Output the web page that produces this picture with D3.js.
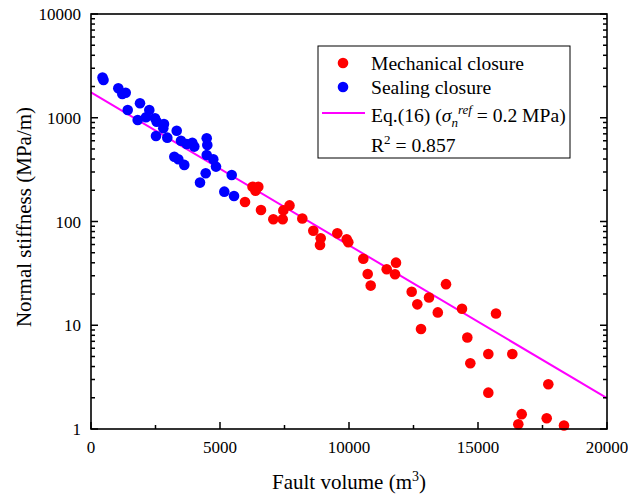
<!DOCTYPE html>
<html><head><meta charset="utf-8">
<script src="https://cdn.jsdelivr.net/npm/d3@7"></script>
<style>body{margin:0;background:#fff}svg{display:block}text{font-family:"Liberation Serif","Times New Roman",serif}</style>
</head><body><svg id="c" width="628" height="495"></svg>
<script>
// Data
const sealingX = [446,485,1058,1213,1345,1423,1899,2260,1810,2132,2481,2547,2829,2802,2519,2957,3322,3488,3709,3926,4004,4485,4508,3229,3384,3616,4485,4740,4845,4446,4225,5454,5167,5543];
const sealingY = [2443,2312,1923,1694,1742,1188,1378,1188,951,1010,988,917,871,791,667,643,750,601,559,575,527,634,546,421,398,351,437,398,338,292,237,281,194,176];
const mechX = [6260,6485,6376,5969,6589,7066,7430,7454,7694,8190,8616,8903,8876,9547,9911,9973,10554,10725,10841,11461,11822,11783,12430,12648,13101,13760,13442,12791,14380,15698,14586,15400,14702,16330,15400,17725,16694,16562,17663,18333];
const mechY = [216,216,198,154,129,105,105,128,143,107,81.5,68.9,59.3,76.9,67.3,63.1,43.8,31.2,24.1,34.6,40.1,31.0,21.0,15.9,18.5,24.9,13.3,9.2,14.4,13.0,7.62,5.28,4.30,5.28,2.24,2.70,1.39,1.11,1.27,1.08];
const fitX = [0,20000];
const fitY = [1760,1.98];
const xTicks = [0,5000,10000,15000,20000];
const xMinor = [2500,7500,12500,17500];
const yTicks = [1,10,100,1000,10000];

const svg = d3.select("#c");
const L=91,R=607,T=14,B=429;
const x = d3.scaleLinear().domain([0,20000]).range([L,R]);
const y = d3.scaleLog().domain([1,10000]).range([B,T]);

const yMinor=[];
for(let d=1; d<10000; d*=10) for(let k=2;k<=9;k++) yMinor.push(d*k);

const g = svg.append("g");
// fit line
g.append("line").attr("x1",x(fitX[0])).attr("y1",y(fitY[0])).attr("x2",x(fitX[1])).attr("y2",y(fitY[1]))
 .attr("stroke","#ff00ff").attr("stroke-width",2);

// points
g.selectAll("circle.s").data(sealingX.map((v,i)=>[v,sealingY[i]])).enter().append("circle")
 .attr("cx",d=>x(d[0])).attr("cy",d=>y(d[1])).attr("r",5.3).attr("fill","#0000ff");
g.selectAll("circle.m").data(mechX.map((v,i)=>[v,mechY[i]])).enter().append("circle")
 .attr("cx",d=>x(d[0])).attr("cy",d=>y(d[1])).attr("r",5.3).attr("fill","#ff0000");

// axes
const ax = svg.append("g").attr("stroke","#000").attr("fill","none");
ax.append("rect").attr("x",L).attr("y",T).attr("width",R-L).attr("height",B-T).attr("stroke-width",1.6);
xTicks.forEach(t=>ax.append("line").attr("x1",x(t)).attr("x2",x(t)).attr("y1",B).attr("y2",B-7).attr("stroke-width",1.5));
xMinor.forEach(t=>ax.append("line").attr("x1",x(t)).attr("x2",x(t)).attr("y1",B).attr("y2",B-4).attr("stroke-width",1.5));
[[L,1],[R,-1]].forEach(([px,dir])=>{
  yTicks.forEach(t=>ax.append("line").attr("x1",px).attr("x2",px+dir*7).attr("y1",y(t)).attr("y2",y(t)).attr("stroke-width",1.5));
  yMinor.forEach(t=>ax.append("line").attr("x1",px).attr("x2",px+dir*4).attr("y1",y(t)).attr("y2",y(t)).attr("stroke-width",1.5));
});

// tick labels
svg.append("g").selectAll("text").data(xTicks).enter().append("text")
 .attr("x",d=>x(d)).attr("y",453).attr("text-anchor","middle").attr("font-size",17).text(d=>d);
svg.append("g").selectAll("text").data(yTicks).enter().append("text")
 .attr("x",81).attr("y",d=>y(d)+6).attr("text-anchor","end").attr("font-size",17).text(d=>d);

// axis titles
const xt = svg.append("text").attr("x",349).attr("y",489).attr("text-anchor","middle").attr("font-size",21);
xt.append("tspan").text("Fault volume (m");
xt.append("tspan").attr("font-size",14).attr("dy",-8).text("3");
xt.append("tspan").attr("dy",8).text(")");
svg.append("text").attr("transform","translate(31,217) rotate(-90)").attr("text-anchor","middle").attr("font-size",21)
 .text("Normal stiffness (MPa/m)");

// legend
const lg = svg.append("g");
lg.append("rect").attr("x",318).attr("y",46).attr("width",252).attr("height",112).attr("fill","#fff").attr("stroke","#000").attr("stroke-width",1);
lg.append("circle").attr("cx",343).attr("cy",63).attr("r",5.3).attr("fill","#ff0000");
lg.append("circle").attr("cx",343).attr("cy",87).attr("r",5.3).attr("fill","#0000ff");
lg.append("line").attr("x1",322).attr("x2",365).attr("y1",113).attr("y2",113).attr("stroke","#ff00ff").attr("stroke-width",2);
const fs=19.6;
lg.append("text").attr("x",371).attr("y",69.5).attr("font-size",fs).text("Mechanical closure");
lg.append("text").attr("x",371).attr("y",93.5).attr("font-size",fs).text("Sealing closure");
const eq = lg.append("text").attr("x",371).attr("y",122).attr("font-size",fs);
eq.append("tspan").text("Eq.(16) (");
eq.append("tspan").attr("font-style","italic").text("σ");
eq.append("tspan").attr("font-style","italic").attr("font-size",13).attr("dy",5).text("n");
eq.append("tspan").attr("font-style","italic").attr("font-size",13).attr("dy",-13).text("ref");
eq.append("tspan").attr("dy",8).text(" = 0.2 MPa)");
const r2 = lg.append("text").attr("x",371).attr("y",152).attr("font-size",fs);
r2.append("tspan").text("R");
r2.append("tspan").attr("font-size",13).attr("dy",-8).text("2");
r2.append("tspan").attr("dy",8).text(" = 0.857");
</script></body></html>
